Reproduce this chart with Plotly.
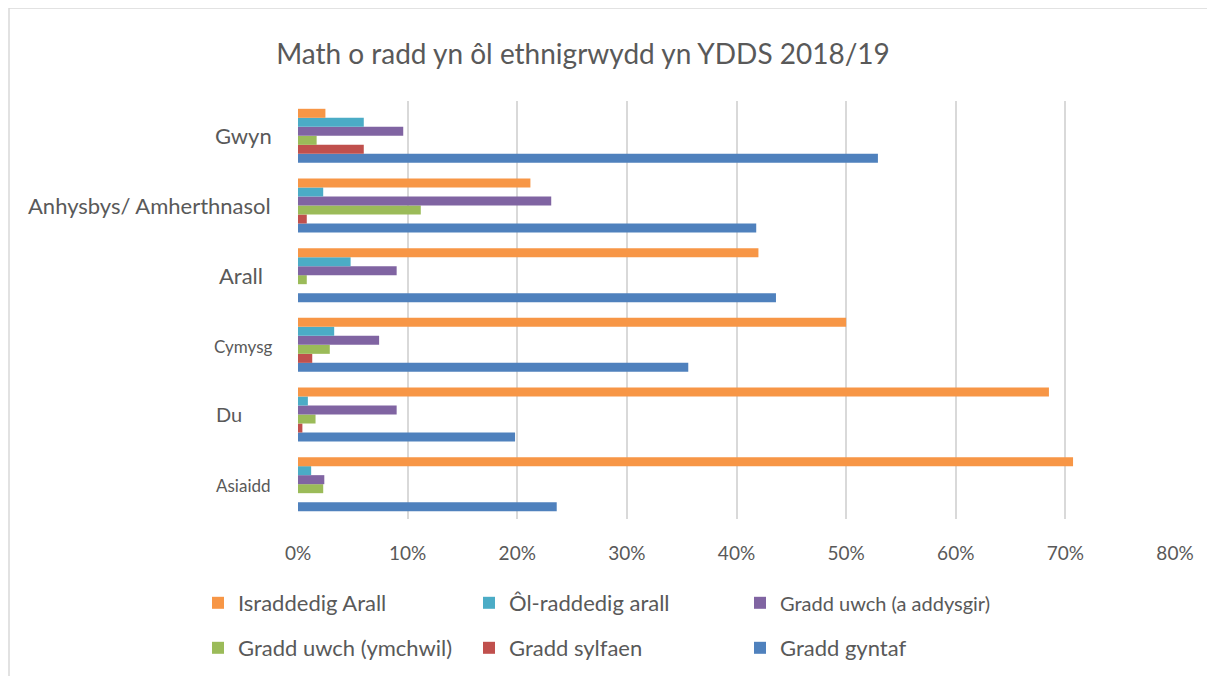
import plotly.graph_objects as go

# Categories, bottom to top
categories = ["Asiaidd", "Du", "Cymysg", "Arall", "Anhysbys/ Amherthnasol", "Gwyn"]

# Series values (%)
gradd_gyntaf = [23.6, 19.8, 35.6, 43.6, 41.8, 52.9]
gradd_sylfaen = [0.0, 0.4, 1.3, 0.0, 0.8, 6.0]
gradd_uwch_ymchwil = [2.3, 1.6, 2.9, 0.8, 11.2, 1.7]
gradd_uwch_addysgir = [2.4, 9.0, 7.4, 9.0, 23.1, 9.6]
ol_raddedig_arall = [1.2, 0.9, 3.3, 4.8, 2.3, 6.0]
israddedig_arall = [70.7, 68.5, 50.0, 42.0, 21.2, 2.5]

series_names = ["Gradd gyntaf", "Gradd sylfaen", "Gradd uwch (ymchwil)",
                "<span style='font-size:20px'>Gradd uwch (a addysgir)</span>",
                "Ôl-raddedig arall", "Israddedig Arall"]
series_values = [gradd_gyntaf, gradd_sylfaen, gradd_uwch_ymchwil,
                 gradd_uwch_addysgir, ol_raddedig_arall, israddedig_arall]
series_colors = ["#4F81BD", "#C0504D", "#9BBB59", "#8064A2", "#4BACC6", "#F79646"]
series_legend = ["legend2", "legend2", "legend2", "legend", "legend", "legend"]

tick_vals = [0, 10, 20, 30, 40, 50, 60, 70, 80]
tick_text = ["0%", "10%", "20%", "30%", "40%", "50%", "60%", "70%", "80%"]

FONT = "Lato, 'Open Sans', sans-serif"
TXT = "#595959"

OFF = 8  # page body margin
W, H = 1215, 676
# plot area in screen px: x 298..1175, y 101..519
L = 298 - OFF
R = W - (1175 - OFF)
T = 101 - OFF
B = H - (519 - OFF)
PW, PH = W - L - R, H - T - B

def px_x(sx):
    return (sx - OFF - L) / PW

def px_y(sy):
    return (H - B - (sy - OFF)) / PH

fig = go.Figure()
for name, vals, col, lg in zip(series_names, series_values, series_colors, series_legend):
    fig.add_trace(go.Bar(
        y=categories, x=vals, name=name, orientation="h",
        marker=dict(color=col, line=dict(width=0)),
        legend=lg,
    ))

# y tick labels as annotations (varied sizes, as in the original)
label_specs = {
    "Gwyn": (274, 22, 0),
    "Anhysbys/ Amherthnasol": (273, 22, 0),
    "Arall": (265, 22, 0),
    "Cymysg": (275, 17, 2),
    "Du": (244, 20, -1),
    "Asiaidd": (273, 17, 1),
}
annotations = []
for cat in categories:
    xr, fs, dy = label_specs[cat]
    annotations.append(dict(
        x=px_x(xr), xref="paper", y=cat, yref="y", xanchor="right", yanchor="middle",
        yshift=-dy, text=cat, showarrow=False, font=dict(family=FONT, size=fs, color=TXT),
    ))

fig.update_layout(
    width=W, height=H,
    margin=dict(l=L, r=R, t=T, b=B),
    paper_bgcolor="white", plot_bgcolor="white",
    barmode="group", bargap=0.224, bargroupgap=0,
    font=dict(family=FONT, color=TXT),
    title=dict(text="Math o radd yn ôl ethnigrwydd yn YDDS 2018/19",
               x=px_x(583), xref="paper", xanchor="center", y=1 - (54 - OFF) / H, yanchor="middle",
               font=dict(family=FONT, size=28, color=TXT)),
    xaxis=dict(range=[0, 80], tickvals=tick_vals, ticktext=tick_text,
               showgrid=True, gridcolor="#D9D9D9", gridwidth=2,
               zeroline=True, zerolinecolor="rgba(0,0,0,0)",
               showline=False, ticks="", ticklabelstandoff=21,
               tickfont=dict(family=FONT, size=19, color=TXT),
               fixedrange=True),
    yaxis=dict(categoryorder="array", categoryarray=categories, range=[-0.5, 5.5],
               showticklabels=False, showgrid=False, zeroline=False, showline=False,
               ticks=""),
    legend=dict(orientation="h", x=px_x(198), xanchor="left", y=px_y(603), yanchor="middle",
                traceorder="reversed", entrywidth=226, entrywidthmode="pixels",
                font=dict(family=FONT, size=22, color=TXT), bgcolor="rgba(0,0,0,0)"),
    legend2=dict(orientation="h", x=px_x(198), xanchor="left", y=px_y(648), yanchor="middle",
                 traceorder="reversed", entrywidth=226, entrywidthmode="pixels",
                 font=dict(family=FONT, size=22, color=TXT), bgcolor="rgba(0,0,0,0)"),
    annotations=annotations,
    shapes=[dict(type="rect", xref="paper", yref="paper",
                 x0=px_x(9), x1=px_x(1240), y0=px_y(8), y1=px_y(720),
                 line=dict(color="#D9D9D9", width=1.5), fillcolor="rgba(0,0,0,0)", layer="below")],
)

fig.write_html("out.html")
